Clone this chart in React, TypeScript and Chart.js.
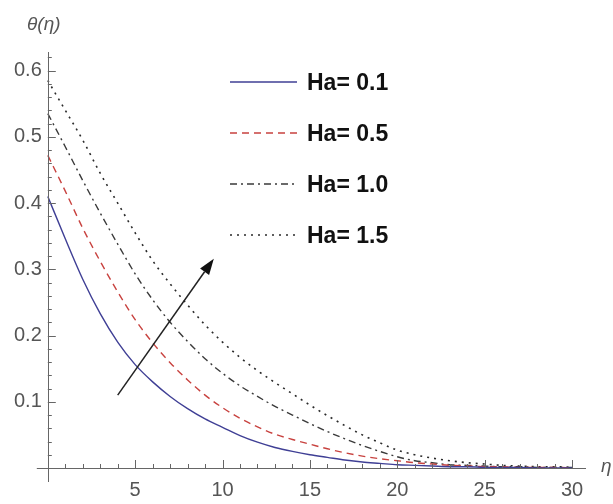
import React, { useEffect, useRef } from 'react';
import { Chart, registerables } from 'chart.js';

Chart.register(...registerables);

const etaValues = [0, 1, 2, 3, 4, 5, 6, 7, 8, 9, 10, 11, 12, 13, 14, 15, 16, 17, 18, 19, 20, 21, 22, 23, 24, 25, 26, 27, 28, 29, 30];
const haLabels = ['Ha= 0.1', 'Ha= 0.5', 'Ha= 1.0', 'Ha= 1.5'];
const thetaHa01 = [0.41, 0.346, 0.285, 0.233, 0.19, 0.156, 0.13, 0.108, 0.0895, 0.074, 0.0615, 0.049, 0.039, 0.031, 0.025, 0.02, 0.016, 0.012, 0.009, 0.007, 0.005, 0.004, 0.003, 0.002, 0.002, 0.001, 0.001, 0.001, 0, 0, 0];
const thetaHa05 = [0.472, 0.418, 0.362, 0.312, 0.266, 0.224, 0.189, 0.159, 0.133, 0.11, 0.091, 0.075, 0.062, 0.051, 0.043, 0.036, 0.029, 0.023, 0.018, 0.014, 0.011, 0.008, 0.006, 0.004, 0.003, 0.002, 0.002, 0.001, 0.001, 0.001, 0];
const thetaHa10 = [0.535, 0.485, 0.434, 0.385, 0.338, 0.293, 0.254, 0.22, 0.191, 0.165, 0.143, 0.124, 0.108, 0.093, 0.08, 0.067, 0.055, 0.044, 0.034, 0.025, 0.017, 0.011, 0.008, 0.005, 0.004, 0.003, 0.002, 0.002, 0.001, 0.001, 0.001];
const thetaHa15 = [0.585, 0.54, 0.495, 0.445, 0.4, 0.355, 0.313, 0.278, 0.246, 0.216, 0.19, 0.167, 0.147, 0.129, 0.112, 0.095, 0.079, 0.064, 0.05, 0.038, 0.027, 0.02, 0.015, 0.011, 0.008, 0.006, 0.004, 0.003, 0.002, 0.002, 0.001];
const xTickLabels = ['5', '10', '15', '20', '25', '30'];
const yTickLabels = ['0.1', '0.2', '0.3', '0.4', '0.5', '0.6'];
const arrowStart = [4.0, 0.11];
const arrowEnd = [9.5, 0.316];

const seriesValues = [thetaHa01, thetaHa05, thetaHa10, thetaHa15];
const seriesColors = ['#3f3f95', '#c8423f', '#3a3a3a', '#2a2a2a'];
const seriesDash = [[], [7, 5], [7, 4, 2, 4], [2, 5]];

const AXIS_COLOR = '#666';
const LABEL_COLOR = '#555';

const decorPlugin = {
  id: 'decor',
  afterDraw(chart: any) {
    const ctx = chart.ctx;
    const xs = chart.scales.x;
    const ys = chart.scales.y;
    const x0 = xs.getPixelForValue(0);
    const y0 = ys.getPixelForValue(0);
    ctx.save();
    ctx.strokeStyle = AXIS_COLOR;
    ctx.lineWidth = 1;
    ctx.beginPath();
    ctx.moveTo(x0 - 11, Math.round(y0) + 0.5);
    ctx.lineTo(chart.chartArea.right, Math.round(y0) + 0.5);
    ctx.moveTo(Math.round(x0) + 0.5, chart.chartArea.top);
    ctx.lineTo(Math.round(x0) + 0.5, y0 + 14);
    ctx.stroke();
    ctx.beginPath();
    xs.ticks.forEach((t: any) => {
      if (t.value <= 0) return;
      const px = Math.round(xs.getPixelForValue(t.value)) + 0.5;
      const major = Math.abs(t.value % 5) < 1e-6;
      ctx.moveTo(px, y0);
      ctx.lineTo(px, y0 - (major ? 8 : 4));
    });
    ys.ticks.forEach((t: any) => {
      if (t.value <= 0) return;
      const py = Math.round(ys.getPixelForValue(t.value)) + 0.5;
      const major = Math.abs(t.value * 10 - Math.round(t.value * 10)) < 1e-6;
      ctx.moveTo(x0, py);
      ctx.lineTo(x0 + (major ? 8 : 4), py);
    });
    ctx.stroke();
    ctx.fillStyle = LABEL_COLOR;
    ctx.font = 'italic 19px "Liberation Sans"';
    ctx.textAlign = 'left';
    ctx.textBaseline = 'alphabetic';
    ctx.fillText('θ(η)', 27, 30);
    ctx.fillText('η', 601, 472);
    const rowBase = [90, 141, 192, 243];
    chart.data.datasets.forEach((ds: any, i: number) => {
      const ly = rowBase[i] - 8;
      ctx.strokeStyle = ds.borderColor;
      ctx.lineWidth = ds.borderWidth;
      ctx.setLineDash(ds.borderDash || []);
      ctx.beginPath();
      ctx.moveTo(230, ly);
      ctx.lineTo(297, ly);
      ctx.stroke();
      ctx.setLineDash([]);
      ctx.fillStyle = '#111';
      ctx.font = 'bold 23px "Liberation Sans"';
      ctx.fillText(ds.label, 307, rowBase[i]);
    });
    const ax1 = xs.getPixelForValue(arrowStart[0]);
    const ay1 = ys.getPixelForValue(arrowStart[1]);
    const ax2 = xs.getPixelForValue(arrowEnd[0]);
    const ay2 = ys.getPixelForValue(arrowEnd[1]);
    const ang = Math.atan2(ay2 - ay1, ax2 - ax1);
    const headLen = 16;
    const headHalf = 5.5;
    const bx = ax2 - headLen * Math.cos(ang);
    const by = ay2 - headLen * Math.sin(ang);
    ctx.strokeStyle = '#222';
    ctx.lineWidth = 1.5;
    ctx.beginPath();
    ctx.moveTo(ax1, ay1);
    ctx.lineTo(bx, by);
    ctx.stroke();
    ctx.fillStyle = '#111';
    ctx.beginPath();
    ctx.moveTo(ax2, ay2);
    ctx.lineTo(bx + headHalf * Math.sin(ang), by - headHalf * Math.cos(ang));
    ctx.lineTo(bx - headHalf * Math.sin(ang), by + headHalf * Math.cos(ang));
    ctx.closePath();
    ctx.fill();
    ctx.restore();
  },
};

export default function App() {
  const canvasRef = useRef<HTMLCanvasElement | null>(null);

  useEffect(() => {
    if (!canvasRef.current) return;
    const datasets = seriesValues.map((vals, i) => ({
      label: haLabels[i],
      data: etaValues.map((x, j) => ({ x, y: vals[j] })),
      borderColor: seriesColors[i],
      borderWidth: i === 3 ? 1.6 : 1.4,
      borderDash: seriesDash[i],
      pointRadius: 0,
      fill: false,
      cubicInterpolationMode: 'monotone' as const,
    }));
    const chart = new Chart(canvasRef.current, {
      type: 'line',
      data: { datasets },
      options: {
        animation: false,
        responsive: true,
        maintainAspectRatio: false,
        clip: false as any,
        layout: { padding: { left: 8, right: 27, top: 52, bottom: -8 } },
        plugins: { legend: { display: false }, tooltip: { enabled: false } },
        scales: {
          x: {
            type: 'linear',
            min: 0,
            max: 30.8,
            grid: { display: false, drawTicks: false },
            border: { display: false },
            ticks: {
              stepSize: 1,
              includeBounds: false,
              autoSkip: false,
              maxRotation: 0,
              padding: 10,
              color: LABEL_COLOR,
              font: { family: '"Liberation Sans"', size: 20 },
              callback: (v: any) => (xTickLabels.includes(String(v)) ? String(v) : ''),
            },
          },
          y: {
            type: 'linear',
            min: 0,
            max: 0.628,
            grid: { display: false, drawTicks: false },
            border: { display: false },
            ticks: {
              stepSize: 0.02,
              includeBounds: false,
              autoSkip: false,
              padding: 6,
              color: LABEL_COLOR,
              font: { family: '"Liberation Sans"', size: 20 },
              callback: (v: any) => {
                const s = (Math.round(Number(v) * 100) / 100).toFixed(1);
                const isMajor = Math.abs(Number(v) * 10 - Math.round(Number(v) * 10)) < 1e-6;
                return isMajor && yTickLabels.includes(s) ? s : '';
              },
            },
          },
        },
      },
      plugins: [decorPlugin],
    });
    return () => chart.destroy();
  }, []);

  return (
    <div style={{ position: 'absolute', left: 0, top: 0, width: 613, height: 504, background: '#fff' }}>
      <canvas ref={canvasRef} />
    </div>
  );
}
